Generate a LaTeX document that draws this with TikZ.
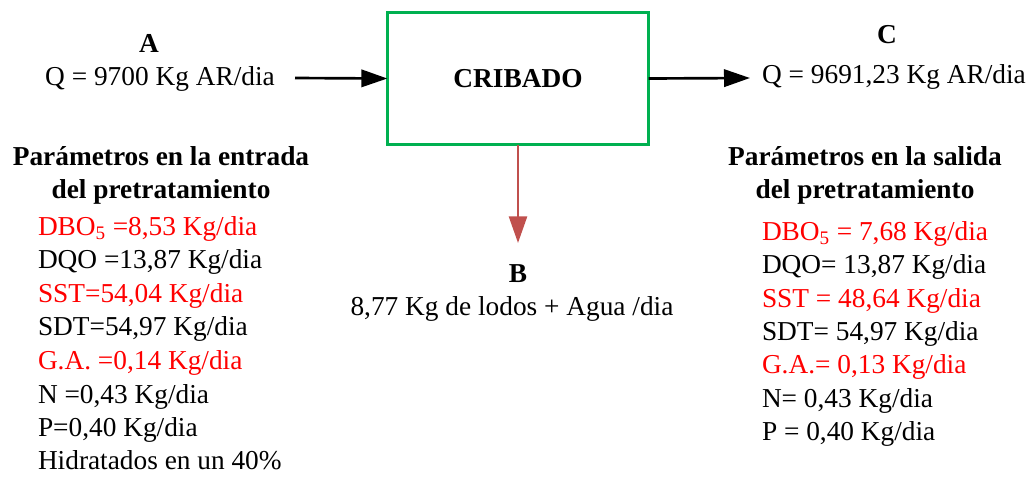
\documentclass[tikz,border=0pt]{standalone}
\usepackage{fontspec}
\setmainfont{Liberation Serif}
\usetikzlibrary{arrows.meta}
\definecolor{boxgreen}{RGB}{0,176,80}
\definecolor{arrowred}{RGB}{192,80,77}
\definecolor{txtred}{RGB}{255,0,0}
\begin{document}
\begin{tikzpicture}[x=0.75pt,y=-0.75pt,
  every node/.style={inner sep=0pt, outer sep=0pt, font=\fontsize{20.5}{25}\selectfont},
  lbl/.style={anchor=base},
  hd/.style={anchor=base, font=\fontsize{20.5}{25}\selectfont\bfseries},
  item/.style={anchor=base west},
  redt/.style={text=txtred},
  procbox/.style={draw=boxgreen, line width=2.3pt, minimum width=196pt, minimum height=99pt},
  flow/.style={line width=2pt, -{Triangle[length=19.5pt,width=13pt]}},
  sludge/.style={draw=arrowred, line width=1.9pt, -{Triangle[length=20pt,width=13.5pt,fill=arrowred]}}
]
\useasboundingbox (0,0) rectangle (1034,476);

\node[procbox] (box) at (518,78.5) {};
\node[hd] (cribado) at (518,87) {CRIBADO};

\coordinate (ain) at (295,78);
\coordinate (cout) at (750,78);
\coordinate (bout) at (518,243);
\draw[flow] (ain) -- (box.west);
\draw[flow] (box.east) -- (cout);
\draw[sludge] (box.south) -- (bout);

% A
\node[hd] (A) at (149,52) {A};
\node[lbl] (qa) at (160,85) {Q = 9700 Kg AR/dia};
% C
\node[hd] (C) at (887,43) {C};
\node[lbl] (qc) at (894,83) {Q = 9691,23 Kg AR/dia};
% B
\node[hd] (B) at (518,282) {B};
\node[lbl] (qb) at (512,315) {8,77 Kg de lodos + Agua /dia};

% left parameters
\node[hd] (lh1) at (161,165) {Parámetros en la entrada};
\node[hd] (lh2) at (161,198) {del pretratamiento};
\node[item,redt] (l1) at (38,235) {DBO\textsubscript{5} =8,53 Kg/dia};
\node[item] (l2) at (38,268) {DQO =13,87 Kg/dia};
\node[item,redt] (l3) at (38,302) {SST=54,04 Kg/dia};
\node[item] (l4) at (38,335) {SDT=54,97 Kg/dia};
\node[item,redt] (l5) at (38,369) {G.A. =0,14 Kg/dia};
\node[item] (l6) at (38,403) {N =0,43 Kg/dia};
\node[item] (l7) at (38,436) {P=0,40 Kg/dia};
\node[item] (l8) at (38,469) {Hidratados en un 40\%};

% right parameters
\node[hd] (rh1) at (865,165) {Parámetros en la salida};
\node[hd] (rh2) at (865,198) {del pretratamiento};
\node[item,redt] (r1) at (762,240) {DBO\textsubscript{5} = 7,68 Kg/dia};
\node[item] (r2) at (762,273) {DQO= 13,87 Kg/dia};
\node[item,redt] (r3) at (762,307) {SST = 48,64 Kg/dia};
\node[item] (r4) at (762,340) {SDT= 54,97 Kg/dia};
\node[item,redt] (r5) at (762,373) {G.A.= 0,13 Kg/dia};
\node[item] (r6) at (762,407) {N= 0,43 Kg/dia};
\node[item] (r7) at (762,440) {P = 0,40 Kg/dia};
\end{tikzpicture}
\end{document}
